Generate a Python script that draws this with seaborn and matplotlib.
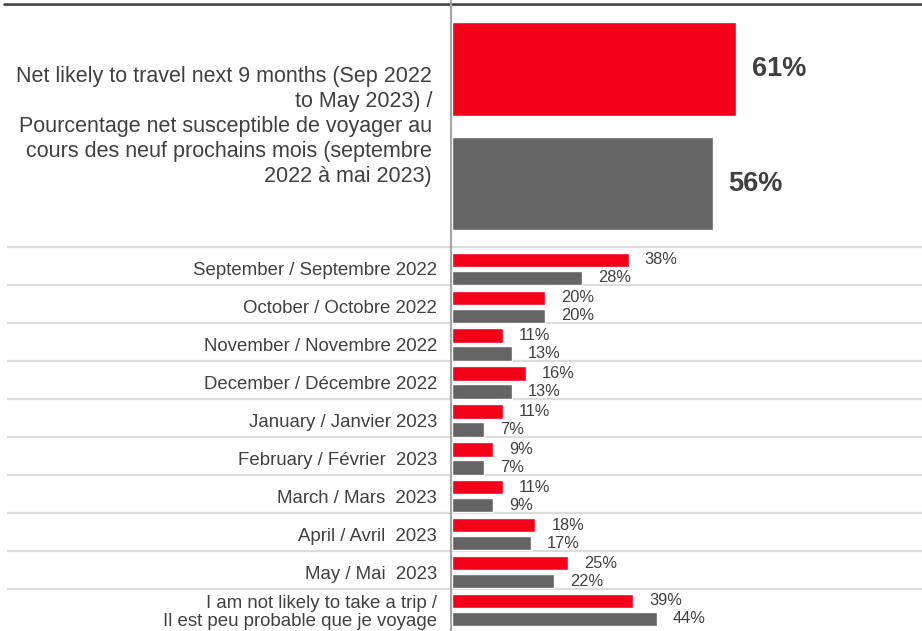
import matplotlib
matplotlib.use("Agg")
import matplotlib.pyplot as plt
from matplotlib.lines import Line2D
import seaborn as sns
import pandas as pd

# --- data ---
series_names = ["Wave A", "Wave B"]
top_label = ["Net likely to travel next 9 months (Sep 2022\nto May 2023) /\n"
             "Pourcentage net susceptible de voyager au\ncours des neuf prochains mois (septembre\n"
             "2022 à mai 2023)"]
top_red = [61]
top_gray = [56]

months = [
    "September / Septembre 2022",
    "October / Octobre 2022",
    "November / Novembre 2022",
    "December / Décembre 2022",
    "January / Janvier 2023",
    "February / Février  2023",
    "March / Mars  2023",
    "April / Avril  2023",
    "May / Mai  2023",
    "I am not likely to take a trip /\nIl est peu probable que je voyage",
]
month_red = [38, 20, 11, 16, 11, 9, 11, 18, 25, 39]
month_gray = [28, 20, 13, 13, 7, 7, 9, 17, 22, 44]

RED = "#F50019"
GRAY = "#646464"
TXT = "#404040"
SEP = "#DCDCDC"


def long_table(labels, red, gray):
    df = pd.DataFrame({"label": labels, series_names[0]: red, series_names[1]: gray})
    return df.melt(id_vars="label", var_name="series", value_name="value")


sns.set_theme(style="white")
plt.rcParams["font.family"] = ["Liberation Sans", "DejaVu Sans"]

W, H = 922, 631
fig = plt.figure(figsize=(W / 100, H / 100), dpi=100)

ax_top = fig.add_axes([451.5 / W, 1 - 247.5 / H, 1 - 451.5 / W, 244.5 / H])
ax_bot = fig.add_axes([451.5 / W, 1 - 626.5 / H, 1 - 451.5 / W, 379 / H])

# top block: big bars
sns.barplot(data=long_table(top_label, top_red, top_gray), x="value", y="label",
            hue="series", palette=[RED, GRAY], saturation=1, orient="h",
            width=0.94, gap=0.19, legend=False, ax=ax_top)
ax_top.set_ylim(0.495, -0.505)
for c in ax_top.containers:
    ax_top.bar_label(c, fmt="%d%%", padding=11.5, fontsize=19.5, fontweight="bold", color=TXT)
ax_top.tick_params(axis="y", length=0, pad=14, labelsize=15.5, labelcolor=TXT)
for t in ax_top.get_yticklabels():
    t.set_linespacing(1.26)
    t.set_verticalalignment("center")

# monthly rows
off = 0.063
sns.barplot(data=long_table(months, month_red, month_gray), x="value", y="label",
            hue="series", palette=[RED, GRAY], saturation=1, orient="h",
            width=0.95, gap=0.2, legend=False, ax=ax_bot)
ax_bot.set_ylim(9.5 - off, -0.5 - off)
for c in ax_bot.containers:
    ax_bot.bar_label(c, fmt="%d%%", padding=11.5, fontsize=11.8, color=TXT)
ax_bot.tick_params(axis="y", length=0, pad=10.5, labelsize=13.4, labelcolor=TXT)
for t in ax_bot.get_yticklabels():
    t.set_linespacing(1.1)

# row separators, running into the label area
x_left = -(451.5 - 8) / (W - 451.5)
for i in range(len(months)):
    ax_bot.axhline(i - 0.5 - off, xmin=x_left, xmax=1, color=SEP, lw=1.6,
                   clip_on=False, zorder=0)

for ax in (ax_top, ax_bot):
    ax.set_xlim(0, 100.9)
    ax.set_xticks([])
    ax.set_xlabel("")
    ax.set_ylabel("")
    sns.despine(ax=ax, left=True, bottom=True)

# top rule and vertical axis line
fig.add_artist(Line2D([4 / W, 1], [1 - 5.3 / H] * 2, color="#BFBFBF", lw=0.9))
fig.add_artist(Line2D([4 / W, 1], [1 - 3.5 / H] * 2, color="#3F3F3F", lw=1.8))
fig.add_artist(Line2D([450.5 / W] * 2, [0, 1], color="#A6A6A6", lw=1.5))

fig.savefig("out.png", dpi=100)
